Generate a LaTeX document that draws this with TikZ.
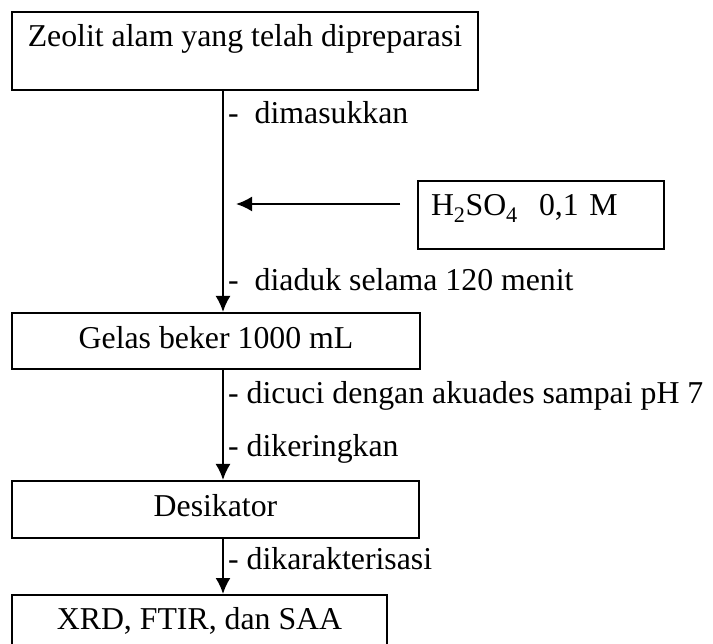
\documentclass[tikz,border=0pt]{standalone}
\usepackage{fontspec}
\setmainfont{Liberation Serif}
\usetikzlibrary{arrows.meta}
\begin{document}
\begin{tikzpicture}[x=1pt,y=-1pt,
  txt/.style={font=\fontsize{31.8}{38}\selectfont},
  box/.style={txt, draw, line width=2pt, inner sep=0pt},
  lbl/.style={txt, anchor=base west, inner sep=0pt},
  flow/.style={line width=2pt, -{Latex[length=16pt,width=15pt]}}]
\useasboundingbox (0,0) rectangle (713,644);
\clip (0,0) rectangle (713,644);
\node[box, anchor=base, minimum width=466pt, text height=35pt, text depth=43pt] (zeolit) at (245,47) {Zeolit alam yang telah dipreparasi};
\node[box, anchor=base west, inner xsep=13pt, text width=220pt, align=left, text height=35pt, text depth=33pt] (asam) at (417,216) {H\textsubscript{2}SO\textsubscript{4}\ \ 0,1 M};
\node[box, anchor=base, minimum width=408pt, text height=36pt, text depth=20pt] (gelas) at (216,349) {Gelas beker 1000 mL};
\node[box, anchor=base, minimum width=407pt, text height=35pt, text depth=22pt] (desi) at (215.5,516) {Desikator};
\node[box, anchor=base, minimum width=375pt, text height=34pt, text depth=60pt] (xrd) at (199.5,629) {XRD, FTIR, dan SAA};
\coordinate (lx) at (223,0);
\coordinate (hs) at (400,204);
\coordinate (he) at (236,204);
\draw[flow] (zeolit.south -| lx) -- (gelas.north -| lx);
\draw[flow] (gelas.south -| lx) -- (desi.north -| lx);
\draw[flow] (desi.south -| lx) -- (xrd.north -| lx);
\draw[flow] (hs) -- (he);
\node[lbl] (l1) at (228,124) {-\ \ dimasukkan};
\node[lbl] (l2) at (228,291) {-\ \ diaduk selama 120 menit};
\node[lbl] (l3) at (228,404) {- dicuci dengan akuades sampai pH 7};
\node[lbl] (l4) at (228,457) {- dikeringkan};
\node[lbl] (l5) at (228,569) {- dikarakterisasi};
\end{tikzpicture}
\end{document}
